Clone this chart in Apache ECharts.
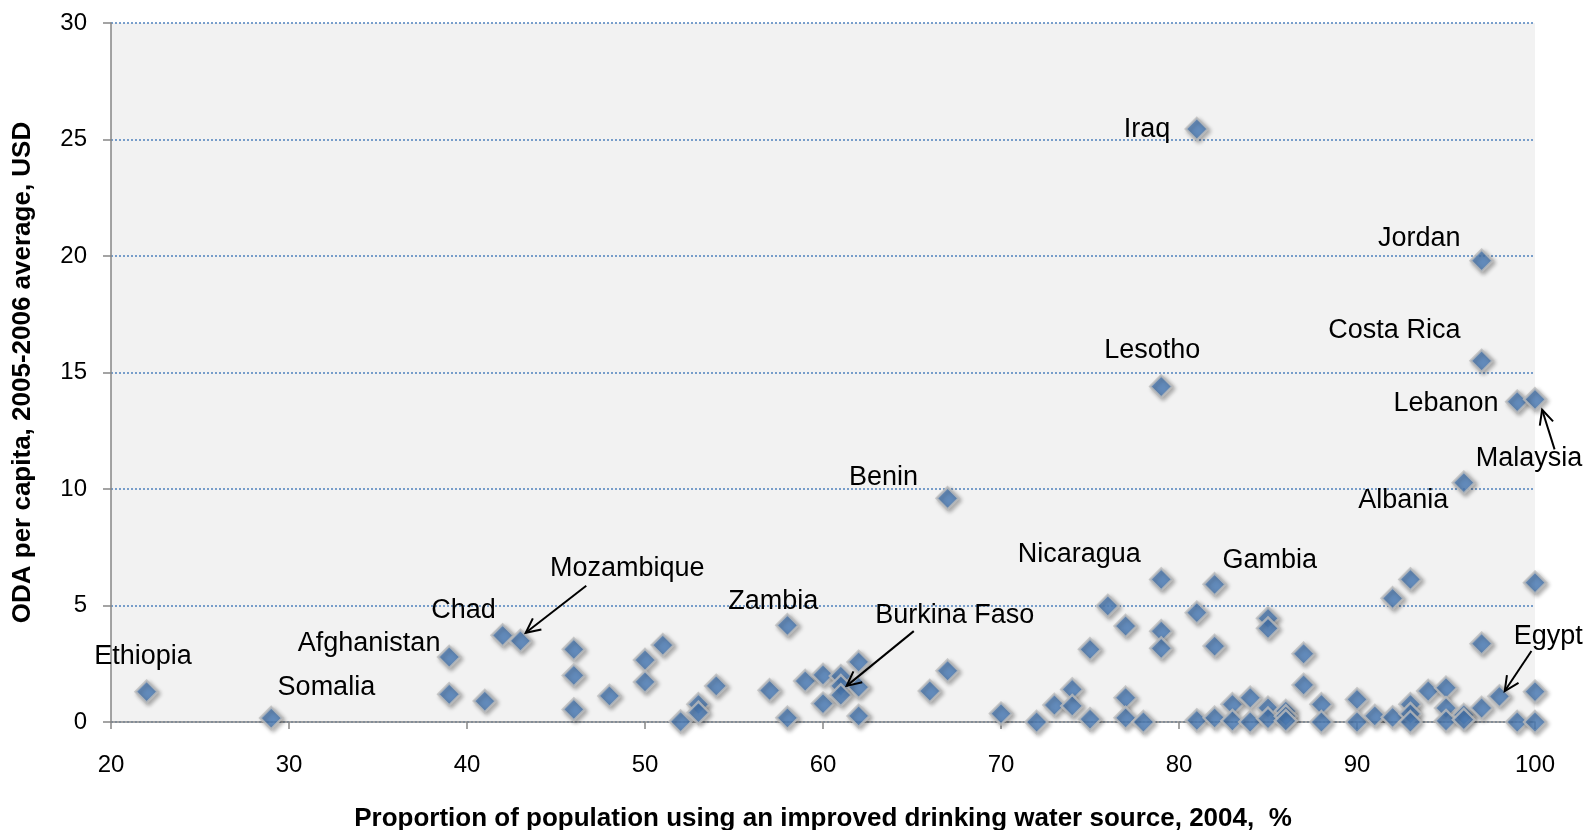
<!DOCTYPE html>
<html><head><meta charset="utf-8">
<script src="https://cdn.jsdelivr.net/npm/echarts@6/dist/echarts.min.js"></script>
<style>html,body{margin:0;padding:0;background:#fff}#c{width:1586px;height:830px}</style>
</head><body><div id="c"></div>
<script>
// ---- data ----
const waterAccess = [22,29,39,39,41,42,43,46,46,46,48,50,50,51,52,53,53,54,57,58,58,59,60,60,61,61,61,62,62,62,66,67,67,70,72,73,74,74,75,75,76,77,77,77,78,79,79,79,79,81,81,81,82,82,82,83,83,84,84,85,85,85,85,86,86,86,87,87,88,88,90,90,91,92,92,93,93,93,93,94,95,95,95,96,96,96,97,97,97,97,98,99,99,100,100,100,100];
const odaPerCapita = [1.3,0.17,2.79,1.19,0.9,3.72,3.48,3.12,2.0,0.54,1.12,2.66,1.72,3.3,0.02,0.76,0.4,1.55,1.36,4.15,0.18,1.76,2.02,0.79,1.97,1.55,1.15,2.58,1.5,0.26,1.33,2.2,9.6,0.36,0.0,0.73,1.4,0.69,0.12,3.12,4.98,4.12,1.04,0.18,0.0,6.12,3.9,3.16,14.4,25.45,4.69,0.07,5.91,3.26,0.18,0.76,0.05,1.04,0.0,4.45,4.02,0.61,0.15,0.47,0.25,0.05,2.93,1.59,0.76,0.0,0.97,0.0,0.26,5.31,0.2,6.12,0.76,0.35,0.0,1.33,1.47,0.6,0.05,0.3,0.1,10.27,19.8,15.5,3.36,0.6,1.1,13.75,0.0,13.85,5.98,1.3,0.0];
const xTickValues = [20,30,40,50,60,70,80,90,100];
const yTickValues = [0,5,10,15,20,25,30];
const xTitle = 'Proportion of population using an improved drinking water source, 2004,  %';
const yTitle = 'ODA per capita, 2005-2006 average, USD';
const labelNames = ['Iraq','Jordan','Costa Rica','Lesotho','Lebanon','Malaysia','Albania','Benin','Nicaragua','Gambia','Mozambique','Chad','Zambia','Burkina Faso','Afghanistan','Ethiopia','Somalia','Egypt'];

// ---- annotation layout (data-space anchors for text & arrows) ----
const labelAnchors = {
  'Iraq':[78.2,25.44],'Jordan':[93.5,20.76],'Costa Rica':[92.1,16.82],'Lesotho':[78.5,15.95],
  'Lebanon':[95.0,13.65],'Malaysia':[99.66,11.31],'Albania':[92.6,9.49],'Benin':[63.4,10.49],
  'Nicaragua':[74.4,7.2],'Gambia':[85.1,6.94],'Mozambique':[49.0,6.59],'Chad':[39.8,4.77],
  'Zambia':[57.2,5.16],'Burkina Faso':[67.4,4.55],'Afghanistan':[34.5,3.38],'Ethiopia':[21.8,2.82],
  'Somalia':[32.1,1.47],'Egypt':[100.74,3.68]
};
const arrows = [
  {from:[46.7,5.85], to:[43.3,3.83]},
  {from:[65.1,3.9], to:[61.33,1.55]},
  {from:[101.1,11.7], to:[100.4,13.4]},
  {from:[99.8,3.05], to:[98.3,1.33]}
];

const FONT = '"Liberation Sans", Arial, sans-serif';
const chart = echarts.init(document.getElementById('c'), null, {renderer:'canvas'});
const points = waterAccess.map((x,i)=>[x, odaPerCapita[i]]);

chart.setOption({
  animation:false,
  backgroundColor:'#ffffff',
  grid:{left:111,right:51,top:23,bottom:108,show:true,backgroundColor:'#F2F2F2',borderWidth:0,
        containLabel:false,outerBoundsMode:'none'},
  xAxis:{
    type:'value',min:xTickValues[0],max:xTickValues[xTickValues.length-1],interval:10,
    axisLine:{show:true,onZero:false,lineStyle:{color:'#868686',width:1.5}},
    axisTick:{show:true,length:7,lineStyle:{color:'#868686',width:1.5}},
    splitLine:{show:false},
    axisLabel:{color:'#000',fontSize:24,fontFamily:FONT,margin:31},
    name:xTitle,nameLocation:'middle',nameGap:84,
    nameTextStyle:{color:'#000',fontSize:26,fontWeight:'bold',fontFamily:FONT}
  },
  yAxis:{
    type:'value',min:yTickValues[0],max:yTickValues[yTickValues.length-1],interval:5,
    axisLine:{show:true,lineStyle:{color:'#868686',width:1.5}},
    axisTick:{show:true,length:8,lineStyle:{color:'#868686',width:1.5}},
    splitLine:{show:true,lineStyle:{type:[2,2],color:'#4F81BD',width:1.5}},
    axisLabel:{color:'#000',fontSize:24,fontFamily:FONT,margin:24},
    name:yTitle,nameLocation:'middle',nameGap:75,nameRotate:90,
    nameTextStyle:{color:'#000',fontSize:26,fontWeight:'bold',fontFamily:FONT}
  },
  series:[{
    type:'scatter',data:points,symbol:'diamond',symbolSize:22,clip:false,
    itemStyle:{color:'#4F81BD',borderColor:'#BDBDBD',borderWidth:2.4,
      shadowBlur:4,shadowColor:'rgba(0,0,0,0.35)',shadowOffsetX:2,shadowOffsetY:2}
  }]
});

function px(p){return chart.convertToPixel({gridIndex:0},p);}
const g = [];
labelNames.forEach(n=>{
  const p = px(labelAnchors[n]);
  g.push({type:'text',x:p[0],y:p[1],z:100,style:{text:n,font:'27px '+FONT,fill:'#000',align:'center',verticalAlign:'middle'}});
});
arrows.forEach(a=>{
  const s = px(a.from), t = px(a.to);
  const ang = Math.atan2(t[1]-s[1], t[0]-s[0]);
  const L = 16, w = 0.45;
  const p1 = [t[0]-L*Math.cos(ang-w), t[1]-L*Math.sin(ang-w)];
  const p2 = [t[0]-L*Math.cos(ang+w), t[1]-L*Math.sin(ang+w)];
  g.push({type:'line',z:100,shape:{x1:s[0],y1:s[1],x2:t[0],y2:t[1]},style:{stroke:'#000',lineWidth:2}});
  g.push({type:'polyline',z:100,shape:{points:[p1,t,p2]},style:{stroke:'#000',lineWidth:2,fill:null}});
});
chart.setOption({graphic:g});
</script></body></html>
